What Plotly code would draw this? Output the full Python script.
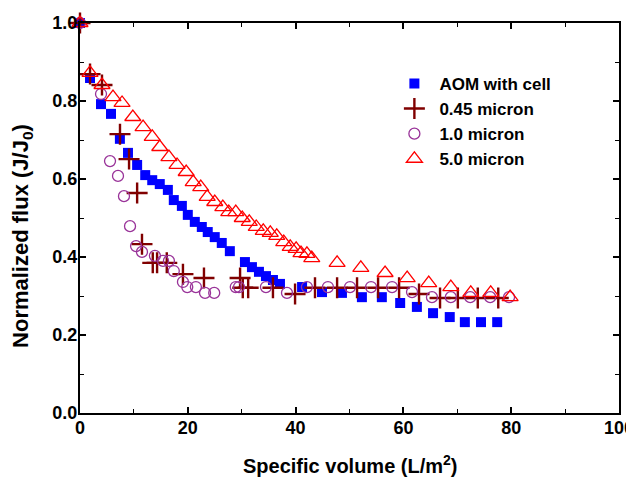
import plotly.graph_objects as go

# AOM with cell
aom_x = [0, 1.86, 3.9, 5.75, 7.4, 8.9, 10.6, 12.1, 13.4, 14.8, 16.3, 17.4, 18.9, 20.0, 21.3, 22.6, 23.7, 25.0, 26.3, 27.8,
         30.6, 31.9, 33.2, 34.5, 35.8, 37.1, 41.2, 44.9, 48.6, 52.3, 56.0, 59.4, 62.5, 65.5, 68.6, 71.4, 74.4, 77.4]
aom_y = [1.0, 0.859, 0.792, 0.767, 0.703, 0.667, 0.636, 0.610, 0.597, 0.587, 0.572, 0.546, 0.531, 0.508, 0.490, 0.477, 0.464, 0.451, 0.436, 0.415,
         0.387, 0.374, 0.362, 0.351, 0.341, 0.331, 0.323, 0.310, 0.308, 0.297, 0.297, 0.282, 0.272, 0.256, 0.246, 0.233, 0.233, 0.233]

# 0.45 micron
m045_x = [0, 1.86, 4.08, 7.42, 9.1, 10.6, 11.5, 13.5, 14.3, 16.1, 19.1, 23.0, 29.7, 30.2, 31.2, 35.8, 39.9,
          43.6, 47.7, 51.4, 55.3, 59.2, 62.9, 66.8, 70.1, 73.8, 77.6]
m045_y = [1.0, 0.869, 0.841, 0.715, 0.651, 0.564, 0.433, 0.385, 0.385, 0.385, 0.356, 0.346, 0.346, 0.321, 0.321, 0.321, 0.305,
          0.321, 0.321, 0.321, 0.321, 0.321, 0.305, 0.295, 0.295, 0.295, 0.295]

# 1.0 micron
m10_x = [0, 3.9, 5.57, 7.05, 8.16, 9.28, 10.4, 11.5, 13.9, 15.4, 16.5, 17.4, 19.1, 19.9, 21.5, 23.2, 24.9,
         28.9, 29.5, 34.5, 38.4, 42.1, 46.0, 50.1, 54.0, 57.9, 61.6, 65.3, 68.8, 72.4, 76.1, 79.6]
m10_y = [1.0, 0.818, 0.646, 0.608, 0.556, 0.479, 0.428, 0.413, 0.403, 0.390, 0.390, 0.364, 0.336, 0.323, 0.323, 0.308, 0.308,
         0.323, 0.323, 0.323, 0.308, 0.323, 0.323, 0.323, 0.323, 0.323, 0.310, 0.297, 0.297, 0.297, 0.297, 0.297]

# 5.0 micron
m50_x = [0, 1.86, 4.08, 6.12, 7.8, 9.8, 11.7, 13.4, 14.8, 16.5, 18.0, 19.7, 21.0, 22.4, 23.6, 25.0, 26.5, 27.6, 28.9,
         30.1, 31.4, 32.7, 34.0, 35.3, 36.5, 37.8, 39.0, 40.1, 41.0, 42.1, 43.0, 47.7, 52.1, 56.6, 60.7, 64.7, 68.8, 72.5, 76.2, 79.8]
m50_y = [1.0, 0.872, 0.841, 0.810, 0.795, 0.759, 0.733, 0.708, 0.682, 0.656, 0.636, 0.618, 0.592, 0.579, 0.554, 0.541, 0.528, 0.515, 0.515,
         0.500, 0.490, 0.477, 0.467, 0.462, 0.454, 0.438, 0.426, 0.421, 0.410, 0.408, 0.397, 0.385, 0.372, 0.359, 0.346, 0.333, 0.323, 0.308, 0.308, 0.297]

x_ticks = [0, 20, 40, 60, 80, 100]
y_ticks = [0.0, 0.2, 0.4, 0.6, 0.8, 1.0]
x_title = "Specific volume (L/m<sup>2</sup>)"
y_title = "Normalized flux (J/J<sub>0</sub>)"

FONT = "Arial, Liberation Sans, sans-serif"

fig = go.Figure()
fig.add_trace(go.Scatter(x=aom_x, y=aom_y, mode="markers", name="AOM with cell", cliponaxis=False,
                         marker=dict(symbol="square", size=10, color="#0000FF", line=dict(width=0))))
fig.add_trace(go.Scatter(x=m045_x, y=m045_y, mode="markers", name="0.45 micron", cliponaxis=False,
                         marker=dict(symbol="cross-thin", size=15, color="#800000",
                                     line=dict(width=2.4, color="#800000"))))
fig.add_trace(go.Scatter(x=m10_x, y=m10_y, mode="markers", name="1.0 micron", cliponaxis=False,
                         marker=dict(symbol="circle-open", size=11, color="#993399",
                                     line=dict(width=1.3, color="#993399"))))
fig.add_trace(go.Scatter(x=m50_x, y=m50_y, mode="markers", name="5.0 micron", cliponaxis=False,
                         marker=dict(symbol="triangle-up-open", size=14, color="#FF0000",
                                     line=dict(width=1.3, color="#FF0000"))))

axis_common = dict(showline=True, linecolor="black", linewidth=2, mirror="ticks",
                   ticks="inside", ticklen=6, tickwidth=1.5, tickcolor="black",
                   showgrid=False, zeroline=False, automargin=False, ticklabelstandoff=-3,
                   ticklabeloverflow="allow",
                   tickfont=dict(family=FONT, size=18, color="black", weight="bold"))

fig.update_xaxes(range=[0, 100], tickvals=x_ticks, ticktext=[str(v) for v in x_ticks],
                 minor=dict(ticks="inside", ticklen=4, dtick=10, tick0=0, tickcolor="black", tickwidth=1.2),
                 **axis_common)
fig.update_yaxes(range=[0, 1.0], tickvals=y_ticks, ticktext=[f"{v:.1f}" for v in y_ticks],
                 minor=dict(ticks="inside", ticklen=4, dtick=0.1, tick0=0, tickcolor="black", tickwidth=1.2),
                 **axis_common)

title_font = dict(family=FONT, size=20, color="black", weight="bold")
fig.add_annotation(text=x_title, xref="paper", yref="paper", x=0.501, y=-0.133,
                   xanchor="center", yanchor="middle", showarrow=False, font=title_font)
fig.add_annotation(text=y_title, xref="paper", yref="paper", x=-0.1076, y=0.454, textangle=-90,
                   xanchor="center", yanchor="middle", showarrow=False,
                   font=dict(family=FONT, size=22, color="black", weight="bold"))

# page body has an 8px margin, so the figure is sized to fit the window
fig.update_layout(width=626, height=469, margin=dict(l=72, r=15, t=15, b=64),
                  plot_bgcolor="white", paper_bgcolor="white",
                  showlegend=True,
                  legend=dict(x=0.574, y=0.89, xanchor="left", yanchor="top",
                              bgcolor="rgba(0,0,0,0)", tracegroupgap=0, itemwidth=40,
                              font=dict(family=FONT, size=17, color="black", weight="bold")))

fig.write_html("out.html")
